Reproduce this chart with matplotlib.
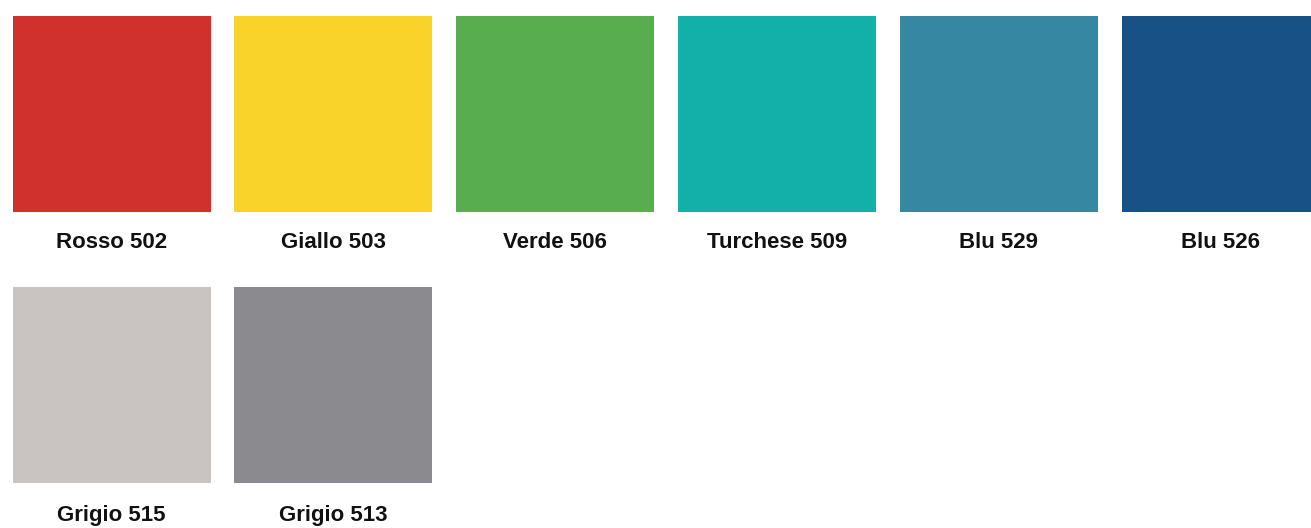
import matplotlib
matplotlib.use("Agg")
import matplotlib.pyplot as plt
from matplotlib.patches import Rectangle

labels = ["Rosso 502", "Giallo 503", "Verde 506", "Turchese 509", "Blu 529", "Blu 526",
          "Grigio 515", "Grigio 513"]
colors = ["#D0312D", "#F9D22A", "#58AD4E", "#12B0A9", "#3688A2", "#185186",
          "#C9C4C1", "#8B8A8F"]

W, H = 1311, 528
fig = plt.figure(figsize=(W / 100, H / 100), dpi=100)
ax = fig.add_axes([0, 0, 1, 1])
ax.set_xlim(0, W)
ax.set_ylim(H, 0)
ax.axis("off")

ncols = 6
x0, dx, sw = 12.5, 221.8, 198
y0, dy, sh = 16, 271, 196
label_off = 227

for i, (lab, col) in enumerate(zip(labels, colors)):
    r, c = divmod(i, ncols)
    x = x0 + c * dx
    y = y0 + r * dy
    ax.add_patch(Rectangle((x, y), sw, sh, facecolor=col, edgecolor="none"))
    ax.text(x + sw / 2, y + label_off + r * 1.5, lab, ha="center", va="center",
            fontsize=16, fontweight="bold", color="#111111",
            family=["Liberation Sans Narrow", "Liberation Sans", "DejaVu Sans"],
            fontstretch="condensed")

fig.savefig("out.png", dpi=100, facecolor="white")
